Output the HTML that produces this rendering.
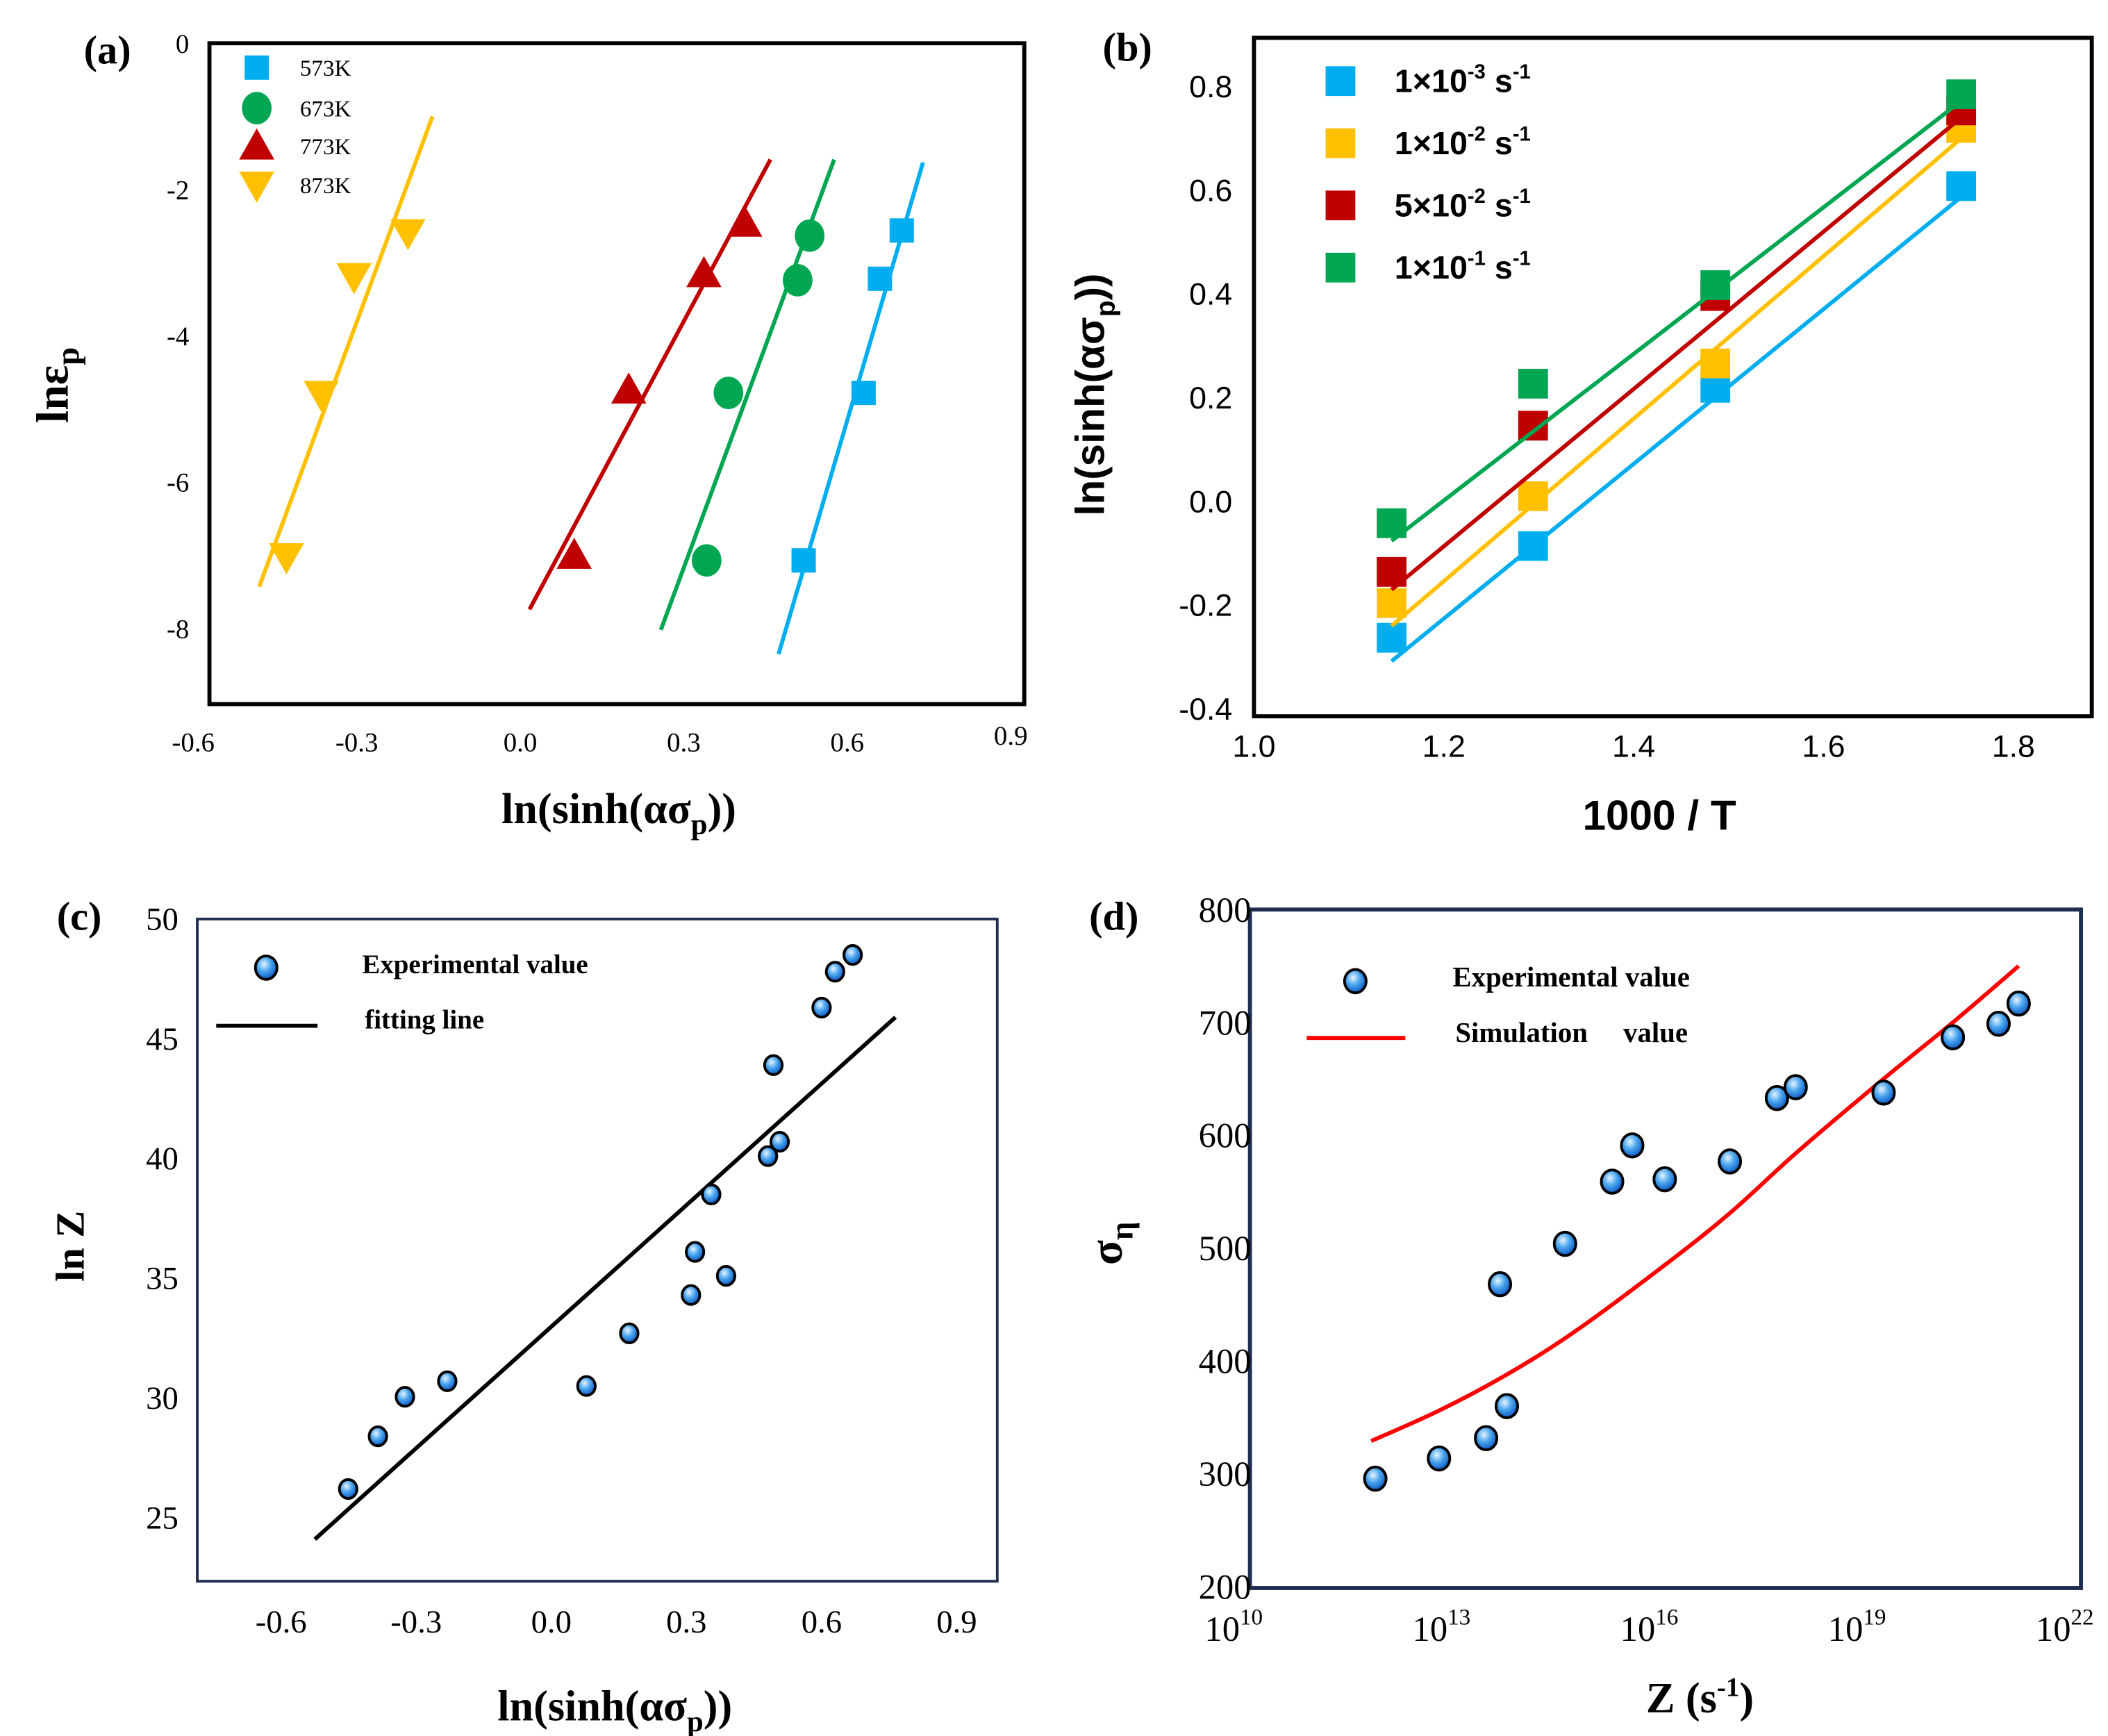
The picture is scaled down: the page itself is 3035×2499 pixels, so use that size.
<!DOCTYPE html>
<html><head><meta charset="utf-8"><style>
html,body{margin:0;padding:0;background:#fff;}
svg{display:block;}
.serif{font-family:"Liberation Serif",serif;}
.sans{font-family:"Liberation Sans",sans-serif;}
</style></head><body>
<svg id="fig" width="3035" height="2499" viewBox="0 0 1560 1284.5" preserveAspectRatio="none" xmlns="http://www.w3.org/2000/svg">
<defs>
<radialGradient id="bub" cx="0.4" cy="0.35" r="0.7">
<stop offset="0" stop-color="#e6f4ff"/><stop offset="0.45" stop-color="#4aa6ee"/><stop offset="1" stop-color="#0650c0"/>
</radialGradient>
</defs>
<g id="pa"></g>
<g id="pb"></g>
<g id="pc"></g>
<g id="pd"></g>
</svg>
<script>
// ---------- Panel (a) data ----------
const aSeries = ['573K','673K','773K','873K'];
const aX573 = [0.70,0.66,0.63,0.52];
const aY573 = [-2.56,-3.22,-4.78,-7.07];
const aX673 = [0.531,0.509,0.382,0.342];
const aY673 = [-2.63,-3.24,-4.78,-7.07];
const aX773 = [0.412,0.337,0.199,0.099];
const aY773 = [-2.46,-3.15,-4.74,-7.0];
const aX873 = [-0.206,-0.305,-0.365,-0.429];
const aY873 = [-2.59,-3.19,-4.8,-7.02];
const aFitX573 = [0.474,0.739], aFitY573 = [-8.35,-1.63];
const aFitX673 = [0.258,0.576], aFitY673 = [-8.02,-1.59];
const aFitX773 = [0.017,0.459], aFitY773 = [-7.74,-1.59];
const aFitX873 = [-0.479,-0.161], aFitY873 = [-7.43,-1.0];
const aXTicks = [-0.6,-0.3,0.0,0.3,0.6,0.9];
const aXTickLabels = ['-0.6','-0.3','0.0','0.3','0.6','0.9'];
const aYTicks = [0,-2,-4,-6,-8];
const aYTickLabels = ['0','-2','-4','-6','-8'];
// ---------- Panel (b) data ----------
const bSeries = ['1e-3','1e-2','5e-2','1e-1'];
const bX = [1.145,1.294,1.486,1.745];
const bY1 = [-0.263,-0.086,0.219,0.608];
const bY2 = [-0.196,0.010,0.266,0.72];
const bY3 = [-0.136,0.146,0.396,0.754];
const bY4 = [-0.042,0.227,0.417,0.785];
const bFitX = [1.145,1.745];
const bFit1 = [-0.308,0.587];
const bFit2 = [-0.24,0.70];
const bFit3 = [-0.17,0.74];
const bFit4 = [-0.076,0.772];
const bXTicks = [1.0,1.2,1.4,1.6,1.8];
const bXTickLabels = ['1.0','1.2','1.4','1.6','1.8'];
const bYTicks = [0.8,0.6,0.4,0.2,0.0,-0.2,-0.4];
const bYTickLabels = ['0.8','0.6','0.4','0.2','0.0','-0.2','-0.4'];
// ---------- Panel (c) data ----------
const cX = [-0.451,-0.385,-0.325,-0.231,0.078,0.173,0.310,0.319,0.355,0.388,0.481,0.493,0.507,0.600,0.630,0.669];
const cY = [26.2,28.4,30.05,30.7,30.5,32.7,34.3,36.1,38.5,35.1,40.1,43.9,40.7,46.3,47.8,48.5];
const cFitX = [-0.525,0.764];
const cFitY = [24.1,45.9];
const cXTicks = [-0.6,-0.3,0.0,0.3,0.6,0.9];
const cXTickLabels = ['-0.6','-0.3','0.0','0.3','0.6','0.9'];
const cYTicks = [50,45,40,35,30,25];
const cYTickLabels = ['50','45','40','35','30','25'];
// ---------- Panel (d) data ----------
const dLogZ = [11.81,12.73,13.41,13.61,13.71,14.55,15.23,15.52,15.99,16.93,17.61,17.88,19.15,20.15,20.81,21.10];
const dSigma = [295.7,313.6,331.6,468,360,503.8,558.9,591,561,576.8,633,642.6,637.8,686.8,698.8,716.7];
const dSimLogZ = [11.75,12.73,13.71,14.69,15.99,16.93,17.90,19.15,20.15,21.10];
const dSimSigma = [329,356,388,426,485,531,585,650,700,750];
const dXTicks = [10,13,16,19,22];
const dXTickExp = ['10','13','16','19','22'];
const dYTicks = [800,700,600,500,400,300,200];
const dYTickLabels = ['800','700','600','500','400','300','200'];

const NS='http://www.w3.org/2000/svg';
function mk(parent,tag,attrs,text){const e=document.createElementNS(NS,tag);for(const k in attrs)e.setAttribute(k,attrs[k]);if(text!==undefined)e.textContent=text;parent.appendChild(e);return e;}
function lin(d0,d1,r0,r1){return v=>r0+(v-d0)*(r1-r0)/(d1-d0);}

// ================= Panel A =================
(function(){
const g=document.getElementById('pa');
const X=lin(0,0.9,385,748), Y=lin(0,-8,32,465);
let e=mk(g,'rect',{x:155,y:32,width:603,height:489,fill:'none',stroke:'#000','stroke-width':3});

aXTicks.forEach((t,i)=>{const el=mk(g,'text',{x:X(t),y:i==5?551:556,'text-anchor':'middle','font-size':20,class:'serif'},aXTickLabels[i]);
});
aYTicks.forEach((t,i)=>{const el=mk(g,'text',{x:140,y:Y(t)+7,'text-anchor':'end','font-size':20,class:'serif'},aYTickLabels[i]);
});
const cols=['#00aeef','#00a651','#c00000','#ffc000'];
const xs=[aX573,aX673,aX773,aX873], ys=[aY573,aY673,aY773,aY873];
const fx=[aFitX573,aFitX673,aFitX773,aFitX873], fy=[aFitY573,aFitY673,aFitY773,aFitY873];
function marker(k,cx,cy){
 if(k==0) return mk(g,'rect',{x:cx-9,y:cy-9,width:18,height:18,fill:cols[0]});
 if(k==1) return mk(g,'ellipse',{cx:cx,cy:cy,rx:11,ry:12,fill:cols[1]});
 if(k==2) return mk(g,'polygon',{points:`${cx},${cy-13} ${cx-13},${cy+10} ${cx+13},${cy+10}`,fill:cols[2]});
 return mk(g,'polygon',{points:`${cx-13},${cy-10} ${cx+13},${cy-10} ${cx},${cy+13}`,fill:cols[3]});
}
for(let k=0;k<4;k++){
 const l=mk(g,'line',{x1:X(fx[k][0]),y1:Y(fy[k][0]),x2:X(fx[k][1]),y2:Y(fy[k][1]),stroke:cols[k],'stroke-width':3});
 
 xs[k].forEach((v,i)=>{const m=marker(k,X(v),Y(ys[k][i]));
  });
 const lm=marker(k,190,[50,80,108,137][k]);
 
 const lt=mk(g,'text',{x:222,y:[56,86,114,143][k],'font-size':17,class:'serif'},aSeries[k]);
 
}
e=mk(g,'text',{x:62,y:47,'font-size':30,'font-weight':'bold',class:'serif'},'(a)');

e=mk(g,'text',{x:0,y:0,'font-size':34,'font-weight':'bold',class:'serif',transform:'translate(50,285) rotate(-90)','text-anchor':'middle'});
e.innerHTML='lnε<tspan font-size="24" dy="8">p</tspan>';

e=mk(g,'text',{x:458,y:609,'font-size':32,'font-weight':'bold',class:'serif','text-anchor':'middle'});
e.innerHTML='ln(sinh(ασ<tspan font-size="22" dy="8">p</tspan><tspan dy="-8">))</tspan>';

})();

// ================= Panel B =================
(function(){
const g=document.getElementById('pb');
const X=lin(1.0,1.8,928,1490), Y=lin(0,0.8,371,64);
let e=mk(g,'rect',{x:928,y:28,width:620,height:502,fill:'none',stroke:'#000','stroke-width':3});

bXTicks.forEach((t,i)=>{const el=mk(g,'text',{x:X(t),y:560,'text-anchor':'middle','font-size':23,class:'sans'},bXTickLabels[i]);
});
bYTicks.forEach((t,i)=>{const el=mk(g,'text',{x:912,y:Y(t)+8,'text-anchor':'end','font-size':23,class:'sans'},bYTickLabels[i]);
});
const cols=['#00aeef','#ffc000','#c00000','#00a651'];
const ys=[bY1,bY2,bY3,bY4], fs=[bFit1,bFit2,bFit3,bFit4];
const legs=[['1×10','-3'],['1×10','-2'],['5×10','-2'],['1×10','-1']];
for(let k=0;k<4;k++){
 const l=mk(g,'line',{x1:X(bFitX[0]),y1:Y(fs[k][0]),x2:X(bFitX[1]),y2:Y(fs[k][1]),stroke:cols[k],'stroke-width':3});
 
 bX.forEach((v,i)=>{const m=mk(g,'rect',{x:X(v)-11,y:Y(ys[k][i])-11,width:22,height:22,fill:cols[k]});
  });
 const ly=[60,106,152,198][k];
 const lm=mk(g,'rect',{x:981,y:ly-11,width:22,height:22,fill:cols[k]});
 
 const lt=mk(g,'text',{x:1032,y:ly+8,'font-size':24,'font-weight':'bold',class:'sans'});
 lt.innerHTML=legs[k][0]+'<tspan font-size="15" dy="-10">'+legs[k][1]+'</tspan><tspan dy="10"> s</tspan><tspan font-size="15" dy="-10">-1</tspan>';
 
}
e=mk(g,'text',{x:816,y:45,'font-size':30,'font-weight':'bold',class:'serif'},'(b)');

e=mk(g,'text',{x:0,y:0,'font-size':30,'font-weight':'bold',class:'sans',transform:'translate(817,292) rotate(-90)','text-anchor':'middle'});
e.innerHTML='ln(sinh(ασ<tspan font-size="20" dy="8">p</tspan><tspan dy="-8">))</tspan>';

e=mk(g,'text',{x:1228,y:614,'font-size':31,'font-weight':'bold',class:'sans','text-anchor':'middle'},'1000 / T');

})();

function bubble(g,cx,cy,r,name){const c=mk(g,'ellipse',{cx:cx,cy:cy,rx:r,ry:r*1.08,fill:'url(#bub)',stroke:'#000','stroke-width':2});
 return c;}

// ================= Panel C =================
(function(){
const g=document.getElementById('pc');
const X=lin(0,0.9,408,708), Y=lin(50,25,680,1123);
let e=mk(g,'rect',{x:146,y:680,width:592,height:490,fill:'none',stroke:'#1f2d4e','stroke-width':2});

cXTicks.forEach((t,i)=>{const el=mk(g,'text',{x:X(t),y:1208,'text-anchor':'middle','font-size':24,class:'serif'},cXTickLabels[i]);
});
cYTicks.forEach((t,i)=>{const el=mk(g,'text',{x:132,y:Y(t)+8,'text-anchor':'end','font-size':24,class:'serif'},cYTickLabels[i]);
});
e=mk(g,'line',{x1:X(cFitX[0]),y1:Y(cFitY[0]),x2:X(cFitX[1]),y2:Y(cFitY[1]),stroke:'#000','stroke-width':3});

cX.forEach((v,i)=>bubble(g,X(v),Y(cY[i]),6.5,'experimental-point'));
bubble(g,197,716,8,'legend-marker');
e=mk(g,'text',{x:268,y:720,'font-size':20,'font-weight':'bold',class:'serif'},'Experimental value');

e=mk(g,'line',{x1:160,y1:759,x2:235,y2:759,stroke:'#000','stroke-width':3});

e=mk(g,'text',{x:270,y:761,'font-size':20,'font-weight':'bold',class:'serif'},'fitting line');

e=mk(g,'text',{x:42,y:688,'font-size':30,'font-weight':'bold',class:'serif'},'(c)');

e=mk(g,'text',{x:0,y:0,'font-size':30,'font-weight':'bold',class:'serif',transform:'translate(62,922) rotate(-90)','text-anchor':'middle'},'ln Z');

e=mk(g,'text',{x:455,y:1273,'font-size':32,'font-weight':'bold',class:'serif','text-anchor':'middle'});
e.innerHTML='ln(sinh(ασ<tspan font-size="22" dy="8">p</tspan><tspan dy="-8">))</tspan>';

})();

// ================= Panel D =================
(function(){
const g=document.getElementById('pd');
const X=lin(10,22,925,1540), Y=lin(200,800,1174,673);
let e=mk(g,'rect',{x:925,y:673,width:615,height:502,fill:'none',stroke:'#1f2d4e','stroke-width':3});

dXTicks.forEach((t,i)=>{const el=mk(g,'text',{x:X(t)-12,y:1214,'text-anchor':'middle','font-size':26,class:'serif'});
el.innerHTML='10<tspan font-size="17" dy="-12">'+dXTickExp[i]+'</tspan>';
});
dYTicks.forEach((t,i)=>{const el=mk(g,'text',{x:926,y:Y(t)+9,'text-anchor':'end','font-size':26,class:'serif'},dYTickLabels[i]);
});
const pts=dSimLogZ.map((v,i)=>[X(v),Y(dSimSigma[i])]);
let d='M'+pts[0][0]+','+pts[0][1];
for(let i=0;i<pts.length-1;i++){const p0=pts[Math.max(0,i-1)],p1=pts[i],p2=pts[i+1],p3=pts[Math.min(pts.length-1,i+2)];
 d+=` C${p1[0]+(p2[0]-p0[0])/6},${p1[1]+(p2[1]-p0[1])/6} ${p2[0]-(p3[0]-p1[0])/6},${p2[1]-(p3[1]-p1[1])/6} ${p2[0]},${p2[1]}`;}
e=mk(g,'path',{d:d,fill:'none',stroke:'#ff0000','stroke-width':3});

dLogZ.forEach((v,i)=>bubble(g,X(v),Y(dSigma[i]),8,'experimental-point'));
bubble(g,1003,726,8,'legend-marker');
e=mk(g,'text',{x:1075,y:730,'font-size':21,'font-weight':'bold',class:'serif'},'Experimental value');

e=mk(g,'line',{x1:967,y1:768,x2:1040,y2:768,stroke:'#ff0000','stroke-width':3});

e=mk(g,'text',{x:1077,y:771,'font-size':21,'font-weight':'bold',class:'serif'},'Simulation     value');
e.style.whiteSpace='pre';

e=mk(g,'text',{x:806,y:688,'font-size':30,'font-weight':'bold',class:'serif'},'(d)');

e=mk(g,'text',{x:0,y:0,'font-size':34,'font-weight':'bold',class:'serif',transform:'translate(830,920) rotate(-90)','text-anchor':'middle'});
e.innerHTML='σ<tspan font-size="24" dy="8">η</tspan>';

e=mk(g,'text',{x:1258,y:1267,'font-size':32,'font-weight':'bold',class:'serif','text-anchor':'middle'});
e.innerHTML='Z (s<tspan font-size="20" dy="-12">-1</tspan><tspan dy="12">)</tspan>';

})();
</script>
</body></html>
